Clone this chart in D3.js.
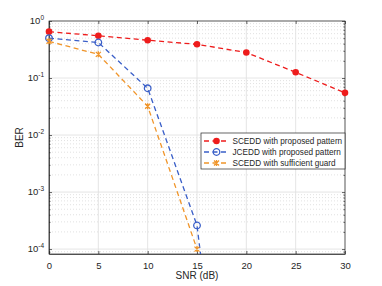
<!DOCTYPE html>
<html>
<head>
<meta charset="utf-8">
<script src="https://cdn.jsdelivr.net/npm/d3@7"></script>
<style>
  body { margin: 0; background: #fff; }
  svg { font-family: "Liberation Sans", Arial, sans-serif; }
</style>
</head>
<body>
<script>
// data
const snr = [0, 5, 10, 15, 20, 25, 30];
const scedd = [0.65, 0.55, 0.46, 0.39, 0.28, 0.126, 0.055];
const jcedd = [0.50, 0.42, 0.066, 2.6e-4, 2.5e-11, null, null];
const guard = [0.44, 0.26, 0.032, 1.0e-4, null, null, null];
const xTicks = [0, 5, 10, 15, 20, 25, 30];
const yTicks = [1e-4, 1e-3, 1e-2, 1e-1, 1];
const names = ['SCEDD with proposed pattern', 'JCEDD with proposed pattern', 'SCEDD with sufficient guard'];

const W = 382, H = 286;
const m = {left: 49, right: 37, top: 21, bottom: 32};
const pw = W - m.left - m.right, ph = H - m.top - m.bottom;

const svg = d3.select('body').append('svg').attr('width', W).attr('height', H);
const g = svg.append('g').attr('transform', `translate(${m.left},${m.top})`);

const x = d3.scaleLinear().domain([0, 30]).range([0, pw]);
const y = d3.scaleLog().domain([8.2e-5, 1]).range([ph, 0]);

// minor grid
const minor = [];
for (let e = -5; e < 0; e++) for (let k = 2; k <= 9; k++) {
  const v = k * Math.pow(10, e);
  if (v > 8.2e-5 && v < 1) minor.push(v);
}
g.selectAll('.ming').data(minor).enter().append('line')
  .attr('x1', 0).attr('x2', pw).attr('y1', d => y(d)).attr('y2', d => y(d))
  .attr('stroke', '#cccccc').attr('stroke-width', 0.6).attr('stroke-dasharray', '1,2');
// major grid
g.selectAll('.gx').data(xTicks).enter().append('line')
  .attr('x1', d => x(d)).attr('x2', d => x(d)).attr('y1', 0).attr('y2', ph)
  .attr('stroke', '#e2e2e2').attr('stroke-width', 0.9);
g.selectAll('.gy').data(yTicks).enter().append('line')
  .attr('x1', 0).attr('x2', pw).attr('y1', d => y(d)).attr('y2', d => y(d))
  .attr('stroke', '#e2e2e2').attr('stroke-width', 0.9);

// axes
const ax = g.append('g').attr('transform', `translate(0,${ph})`)
  .call(d3.axisBottom(x).tickValues(xTicks).tickSizeInner(-3).tickSizeOuter(0).tickPadding(8));
const ay = g.append('g')
  .call(d3.axisLeft(y).tickValues(yTicks).tickSizeInner(-3).tickSizeOuter(0).tickPadding(6).tickFormat(''));
g.append('g').call(d3.axisLeft(y).tickValues(minor).tickSize(-1.5).tickFormat(''))
  .call(s => s.select('.domain').remove());
g.append('g').attr('transform', `translate(${pw},0)`)
  .call(d3.axisRight(y).tickValues(minor).tickSize(-1.5).tickFormat(''))
  .call(s => s.select('.domain').remove());
g.append('g').attr('transform', `translate(${pw},0)`)
  .call(d3.axisRight(y).tickValues(yTicks).tickSize(-3).tickFormat(''))
  .call(s => s.select('.domain').remove());
g.append('g')
  .call(d3.axisTop(x).tickValues(xTicks).tickSize(-3).tickFormat(''))
  .call(s => s.select('.domain').remove());
g.selectAll('.domain, .tick line').attr('stroke', '#262626').attr('stroke-width', 0.7);
ax.selectAll('text').attr('font-size', 9.5).attr('fill', '#262626').attr('font-family', null);

// y tick labels with superscripts
yTicks.forEach(v => {
  const t = g.append('text').attr('x', -5).attr('y', y(v) + 3).attr('text-anchor', 'end')
    .attr('font-size', 9.5).attr('fill', '#262626');
  t.append('tspan').text('10');
  t.append('tspan').attr('dy', -4).attr('font-size', 6.5).text(Math.round(Math.log10(v)));
});

// box
g.append('rect').attr('width', pw).attr('height', ph).attr('fill', 'none')
  .attr('stroke', '#262626').attr('stroke-width', 0.7);

svg.append('text').attr('x', m.left + pw / 2).attr('y', 279).attr('text-anchor', 'middle')
  .attr('font-size', 10).attr('fill', '#262626').text('SNR (dB)');
svg.append('text').attr('transform', `translate(23,${m.top + ph / 2}) rotate(-90)`)
  .attr('text-anchor', 'middle').attr('font-size', 10).attr('fill', '#262626').text('BER');

// series
const series = [
  {vals: scedd, color: '#ee1c1c', mark: 'dot'},
  {vals: jcedd, color: '#3a5fc8', mark: 'ring'},
  {vals: guard, color: '#f0952a', mark: 'star'}
];
const clip = svg.append('clipPath').attr('id', 'pc').append('rect').attr('width', pw).attr('height', ph);
const line = d3.line().defined(d => d[1] != null).x(d => x(d[0])).y(d => y(d[1]));

function drawMark(sel, kind, color) {
  if (kind === 'dot') sel.append('circle').attr('r', 3.3).attr('fill', color);
  else if (kind === 'ring') sel.append('circle').attr('r', 3.3).attr('fill', 'none')
    .attr('stroke', color).attr('stroke-width', 1.3);
  else {
    sel.append('path').attr('d', 'M-2.5,-2.5L2.5,2.5M-2.5,2.5L2.5,-2.5M0,-3L0,3')
      .attr('stroke', color).attr('stroke-width', 1.3);
  }
}

series.forEach(s => {
  const pts = snr.map((d, i) => [d, s.vals[i]]);
  g.append('path').attr('d', line(pts)).attr('clip-path', 'url(#pc)')
    .attr('fill', 'none').attr('stroke', s.color).attr('stroke-width', 1.3)
    .attr('stroke-dasharray', '5,3.5');
  pts.filter(p => p[1] != null && p[1] >= 8.2e-5).forEach(p => {
    drawMark(g.append('g').attr('transform', `translate(${x(p[0])},${y(p[1])})`), s.mark, s.color);
  });
});

// legend
const lg = svg.append('g').attr('transform', 'translate(201,133)');
lg.append('rect').attr('width', 144).attr('height', 36).attr('fill', '#fff')
  .attr('stroke', '#262626').attr('stroke-width', 0.7);
series.forEach((s, i) => {
  const yy = 8 + i * 11;
  lg.append('line').attr('x1', 3).attr('x2', 28).attr('y1', yy).attr('y2', yy)
    .attr('stroke', s.color).attr('stroke-width', 1.3).attr('stroke-dasharray', '5,3.5');
  drawMark(lg.append('g').attr('transform', `translate(15.5,${yy})`), s.mark, s.color);
  lg.append('text').attr('x', 31.5).attr('y', yy + 3).attr('font-size', 8.2).attr('fill', '#262626')
    .text(names[i]);
});
</script>
</body>
</html>
